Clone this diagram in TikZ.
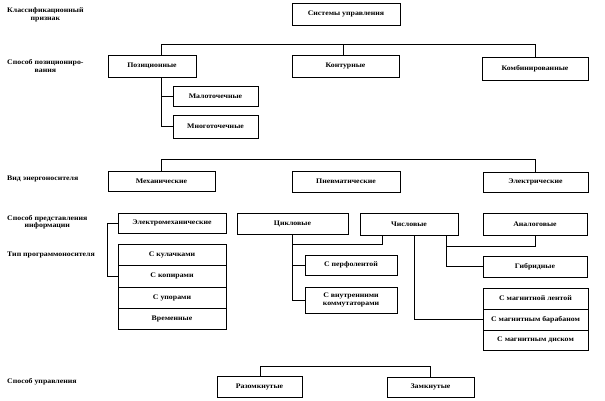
\documentclass[tikz,border=0pt]{standalone}
\usepackage{fontspec}
\setmainfont[FakeStretch=1.12]{Liberation Serif}
\usepackage{tikz}
\pgfdeclarelayer{bg}
\pgfsetlayers{bg,main}
\tikzset{
    box/.style={rectangle, draw, line width=1pt, inner sep=0mm, align=center, font=\fontsize{7}{7.5}\selectfont\bfseries},
    lbl/.style={anchor=west, inner sep=0mm, align=center, font=\fontsize{7}{7.5}\selectfont\bfseries}
}
\tikzset{conn/.style={line width=0.9pt}}

\begin{document}
\begin{tikzpicture}[x=1pt, y=-1pt]
        \useasboundingbox (0,0) rectangle (605,400);
        \node (klass) [lbl] at (7,15) {Классификационный\\признак};
        \node (spos1) [lbl] at (7,66) {Способ позициониро-\\вания};
        \node (vid) [lbl] at (7,179) {Вид энергоносителя};
        \node (spos2) [lbl] at (7,222) {Способ представления\\информации};
        \node (tip) [lbl] at (7,255) {Тип программоносителя};
        \node (spos3) [lbl] at (7,382) {Способ управления};
        \node (sys) [box, minimum width=108pt, minimum height=22pt] at (346,14) {Системы управления};
        \node (pos) [box, minimum width=88pt, minimum height=22pt] at (152,66) {Позиционные};
        \node (kont) [box, minimum width=107pt, minimum height=22pt] at (345.5,66) {Контурные};
        \node (komb) [box, minimum width=106pt, minimum height=23pt] at (535,68.5) {Комбинированные};
        \node (mal) [box, minimum width=85pt, minimum height=20pt] at (215.5,96) {Малоточечные};
        \node (mnog) [box, minimum width=85pt, minimum height=23pt] at (215.5,126.5) {Многоточечные};
        \node (mech) [box, minimum width=107pt, minimum height=20pt] at (161.5,181) {Механические};
        \node (pnev) [box, minimum width=108pt, minimum height=21pt] at (346,181.5) {Пневматические};
        \node (elek) [box, minimum width=105pt, minimum height=20pt] at (535.5,182) {Электрические};
        \node (emech) [box, minimum width=108pt, minimum height=20pt] at (172,223) {Электромеханические};
        \node (cikl) [box, minimum width=111pt, minimum height=21pt] at (292.5,223.5) {Цикловые};
        \node (chisl) [box, minimum width=98pt, minimum height=22pt] at (409,224) {Числовые};
        \node (anal) [box, minimum width=104pt, minimum height=22pt] at (535,224) {Аналоговые};
        \node (kul) [box, minimum width=108pt, minimum height=21pt] at (172,254.5) {С кулачками};
        \node (kop) [box, minimum width=108pt, minimum height=22pt] at (172,276) {С копирами};
        \node (upor) [box, minimum width=108pt, minimum height=21pt] at (172,297.5) {С упорами};
        \node (vrem) [box, minimum width=108pt, minimum height=21pt] at (172,318.5) {Временные};
        \node (perf) [box, minimum width=92pt, minimum height=20pt] at (351,265) {С перфолентой};
        \node (komm) [box, minimum width=92pt, minimum height=26pt] at (351,300) {С внутренними\\коммутаторами};
        \node (gibr) [box, minimum width=104pt, minimum height=21pt] at (535,266.5) {Гибридные};
        \node (mlent) [box, minimum width=105pt, minimum height=21pt] at (535.5,298.5) {С магнитной лентой};
        \node (mbar) [box, minimum width=105pt, minimum height=21pt] at (535.5,319.5) {С магнитным барабаном};
        \node (mdisk) [box, minimum width=105pt, minimum height=20pt] at (535.5,340) {С магнитным диском};
        \node (razom) [box, minimum width=85pt, minimum height=21pt] at (259.5,386.5) {Разомкнутые};
        \node (zamk) [box, minimum width=87pt, minimum height=20pt] at (430.5,387) {Замкнутые};
        \coordinate (b1) at (161,44);
        \coordinate (b2) at (343,44);
        \coordinate (b3) at (161,159);
        \coordinate (c1) at (107,250);
        \coordinate (c2) at (293,244);
        \coordinate (c3) at (382,244);
        \coordinate (c4) at (414,250);
        \coordinate (c5) at (446,246);
        \coordinate (c6) at (260,366);
        \begin{pgfonlayer}{bg}
                \draw [conn] (pos.north -| b1) -- (b1) -| (komb.north);
                \draw [conn] (b2) -- (kont.north -| b2);
                \draw [conn] (pos.south -| b1) |- (mal.west);
                \draw [conn] (pos.south -| b1) |- (mnog.west);
                \draw [conn] (mech.north -| b3) -- (b3) -| (elek.north);
                \draw [conn] (emech.west) -- (emech.west -| c1) |- (kop.west);
                \draw [conn] (cikl.south) |- (perf.west);
                \draw [conn] (cikl.south) |- (komm.west);
                \draw [conn] (c2) -- (c3) -- (c3 |- chisl.south);
                \draw [conn] (chisl.south -| c4) |- (mbar.west);
                \draw [conn] (chisl.south -| c5) |- (gibr.west);
                \draw [conn] (anal.south) |- (c5);
                \draw [conn] (razom.north -| c6) -- (c6) -| (zamk.north);
        \end{pgfonlayer}
\end{tikzpicture}
\end{document}
